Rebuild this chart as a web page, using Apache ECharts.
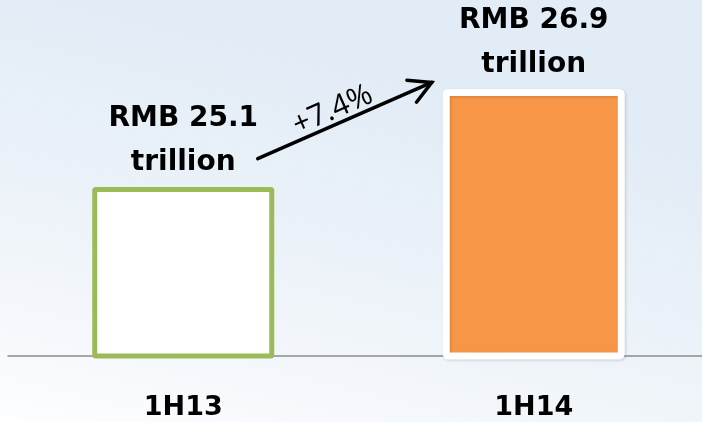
<!DOCTYPE html>
<html>
<head>
<meta charset="utf-8">
<script src="https://cdn.jsdelivr.net/npm/echarts@6/dist/echarts.min.js"></script>
<style>
html,body{margin:0;padding:0;}
#chart{width:702px;height:422px;}
</style>
</head>
<body>
<div id="chart"></div>
<script>
const categories = ['1H13', '1H14'];
const values = [25.1, 26.9];
const valueLabels = ['RMB 25.1\ntrillion', 'RMB 26.9\ntrillion'];
const growthLabel = '+7.4%';
// arrow ends: [fraction between the two categories, value]
const arrowStart = [0.2126, 25.62];
const arrowEnd = [0.709, 27.02];

const chart = echarts.init(document.getElementById('chart'));
const font = '"DejaVu Sans", sans-serif';

chart.setOption({
  backgroundColor: {
    type: 'linear', x: 0.15, y: 0, x2: 0, y2: 1,
    colorStops: [
      { offset: 0, color: '#e2ecf6' },
      { offset: 0.5, color: '#edf3f9' },
      { offset: 0.85, color: '#f8fafd' },
      { offset: 1, color: '#fdfeff' }
    ]
  },
  animation: false,
  grid: { left: 8, right: -7, top: 29, bottom: 66, outerBoundsMode: 'none', containLabel: false },
  xAxis: {
    type: 'category',
    data: categories,
    axisLine: { show: true, lineStyle: { color: '#8c8c8c', width: 1.5 } },
    axisTick: { show: false },
    axisLabel: {
      color: '#000', fontFamily: font, fontWeight: 'bold', fontSize: 27,
      margin: 38
    }
  },
  yAxis: {
    type: 'value', min: 22, max: 28, show: false,
    splitLine: { show: false }
  },
  series: [{
    type: 'bar',
    barWidth: 182,
    data: [
      {
        value: values[0],
        itemStyle: { color: '#ffffff', borderColor: '#9BBB59', borderWidth: 5, borderRadius: 1 }
      },
      {
        value: values[1],
        itemStyle: {
          color: '#F79646', borderColor: '#ffffff', borderWidth: 7, borderRadius: 2,
          shadowBlur: 3, shadowColor: 'rgba(0,0,0,0.16)', shadowOffsetX: 1, shadowOffsetY: 1
        }
      }
    ],
    label: {
      show: true,
      position: 'top',
      distance: 2,
      color: '#000',
      fontFamily: font,
      fontWeight: 'bold',
      fontSize: 28,
      lineHeight: 44,
      align: 'center',
      formatter: p => valueLabels[p.dataIndex]
    }
  }]
});

function toPx(pt) {
  const x0 = chart.convertToPixel({ xAxisIndex: 0 }, 0);
  const x1 = chart.convertToPixel({ xAxisIndex: 0 }, 1);
  const y = chart.convertToPixel({ yAxisIndex: 0 }, pt[1]);
  return [x0 + (x1 - x0) * pt[0], y];
}
const s = toPx(arrowStart);
const e = toPx(arrowEnd);
const ang = Math.atan2(s[1] - e[1], e[0] - s[0]);
const ux = Math.cos(ang), uy = -Math.sin(ang);
const head = 25;
function rot(a) {
  const c = Math.cos(a), sn = Math.sin(a);
  return [-(ux * c - uy * sn) * head, -(ux * sn + uy * c) * head];
}
const h1 = rot(-0.5), h2 = rot(0.5);
const mid = [(s[0] + e[0]) / 2, (s[1] + e[1]) / 2];
const nx = -Math.sin(ang), ny = -Math.cos(ang);

chart.setOption({
  graphic: [
    {
      type: 'polyline',
      shape: { points: [s, e] },
      style: { stroke: '#000', lineWidth: 3.5, lineCap: 'round' },
      silent: true
    },
    {
      type: 'polyline',
      shape: { points: [[e[0] + h1[0], e[1] + h1[1]], e, [e[0] + h2[0], e[1] + h2[1]]] },
      style: { stroke: '#000', lineWidth: 3.5, lineCap: 'round', lineJoin: 'miter', fill: null },
      silent: true
    },
    {
      type: 'text',
      x: mid[0] - 4 + nx * 20,
      y: mid[1] + ny * 20 + 8,
      rotation: ang,
      style: {
        text: growthLabel,
        fill: '#000',
        font: '30px "Open Sans", sans-serif',
        align: 'center',
        verticalAlign: 'middle'
      },
      silent: true
    }
  ]
});
</script>
</body>
</html>
